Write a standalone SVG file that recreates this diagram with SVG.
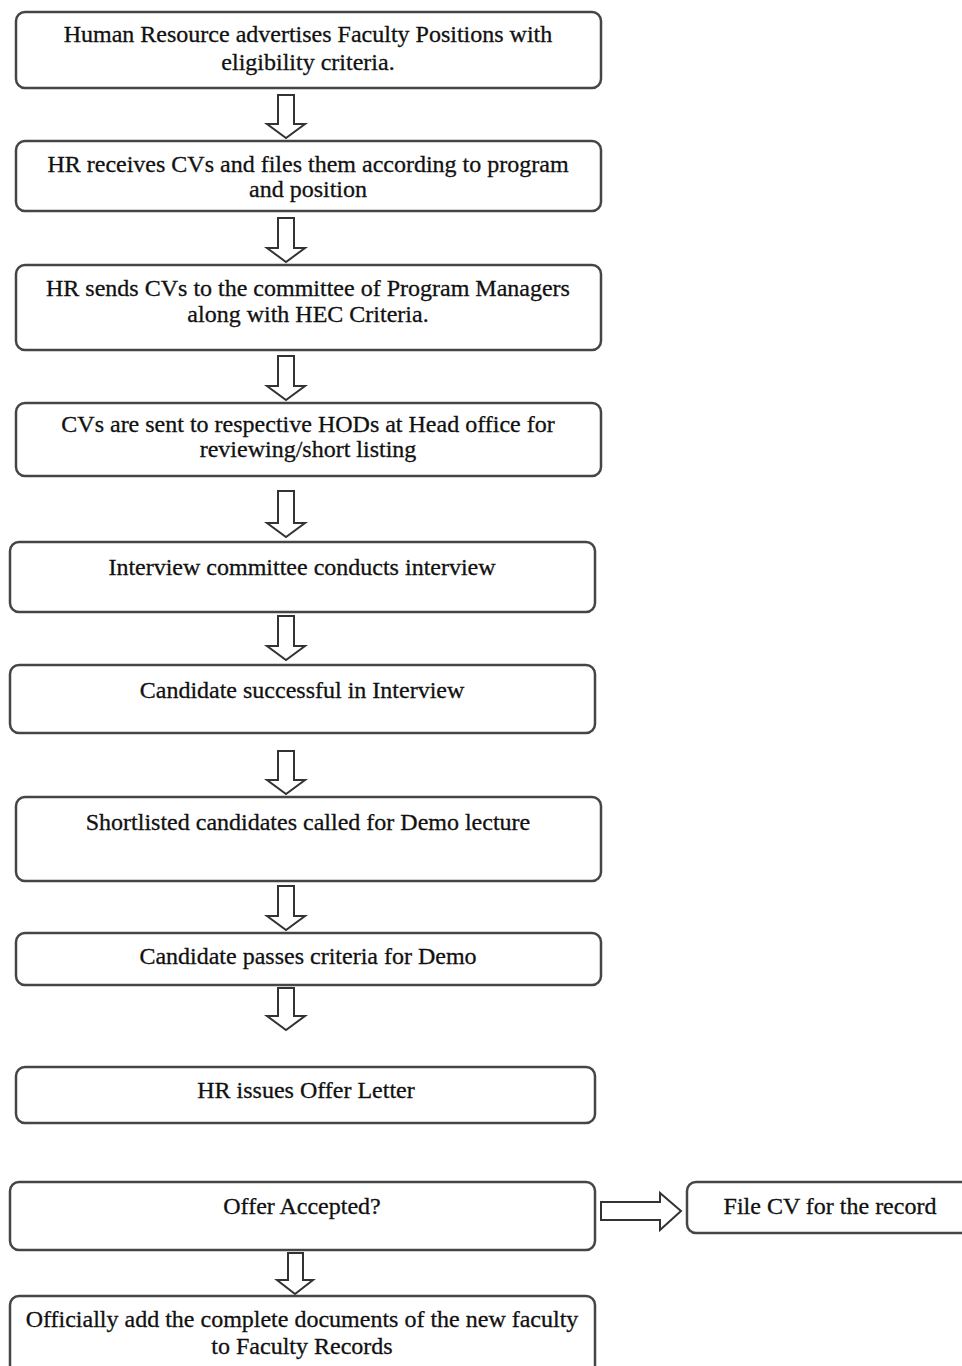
<svg xmlns="http://www.w3.org/2000/svg" width="962" height="1366" viewBox="0 0 962 1366">
<style>
.box{fill:#fff;stroke:#454545;stroke-width:2.5}
.arr{fill:#fff;stroke:#333;stroke-width:2;stroke-linejoin:miter}
text{font-family:"Liberation Serif","Times New Roman",serif;font-size:24px;fill:#111;stroke:#111;stroke-width:0.3;text-anchor:middle}
</style>
<rect width="962" height="1366" fill="#fff"/>
<g id="connectors">
<path class="arr" d="M278,95 H294 V124 H305 L286,138 L267,124 H278 Z"/>
<path class="arr" d="M278,218 H294 V248 H305 L286,262 L267,248 H278 Z"/>
<path class="arr" d="M278,356 H294 V386 H305 L286,400 L267,386 H278 Z"/>
<path class="arr" d="M278,491 H294 V523 H305 L286,537 L267,523 H278 Z"/>
<path class="arr" d="M278,616 H294 V646 H305 L286,660 L267,646 H278 Z"/>
<path class="arr" d="M278,751 H294 V780 H305 L286,794 L267,780 H278 Z"/>
<path class="arr" d="M278,886 H294 V916 H305 L286,930 L267,916 H278 Z"/>
<path class="arr" d="M278,988 H294 V1016 H305 L286,1030 L267,1016 H278 Z"/>
<path class="arr" d="M288,1253 H303 V1280 H313 L295,1294 L277,1280 H288 Z"/>
<path class="arr" d="M601,1202 H660 V1193 L681,1211 L660,1230 V1220 H601 Z"/>
</g>
<g id="n1"><rect class="box" x="16" y="12" width="585" height="76" rx="9"/><text x="308" y="42">Human Resource advertises Faculty Positions with</text><text x="308" y="70">eligibility criteria.</text></g>
<g id="n2"><rect class="box" x="16" y="141" width="585" height="70" rx="9"/><text x="308" y="172">HR receives CVs and files them according to program</text><text x="308" y="197">and position</text></g>
<g id="n3"><rect class="box" x="16" y="265" width="585" height="85" rx="9"/><text x="308" y="296">HR sends CVs to the committee of Program Managers</text><text x="308" y="322">along with HEC Criteria.</text></g>
<g id="n4"><rect class="box" x="16" y="403" width="585" height="73" rx="9"/><text x="308" y="432">CVs are sent to respective HODs at Head office for</text><text x="308" y="457">reviewing/short listing</text></g>
<g id="n5"><rect class="box" x="10" y="542" width="585" height="70" rx="9"/><text x="302" y="575">Interview committee conducts interview</text></g>
<g id="n6"><rect class="box" x="10" y="665" width="585" height="68" rx="9"/><text x="302" y="698">Candidate successful in Interview</text></g>
<g id="n7"><rect class="box" x="16" y="797" width="585" height="84" rx="9"/><text x="308" y="830">Shortlisted candidates called for Demo lecture</text></g>
<g id="n8"><rect class="box" x="16" y="933" width="585" height="52" rx="9"/><text x="308" y="964">Candidate passes criteria for Demo</text></g>
<g id="n9"><rect class="box" x="16" y="1067" width="579" height="56" rx="9"/><text x="306" y="1098">HR issues Offer Letter</text></g>
<g id="n10"><rect class="box" x="10" y="1182" width="585" height="68" rx="9"/><text x="302" y="1214">Offer Accepted?</text></g>
<g id="n11"><rect class="box" x="687" y="1182" width="290" height="51" rx="9"/><text x="830" y="1214">File CV for the record</text></g>
<g id="n12"><rect class="box" x="10" y="1296" width="585" height="90" rx="9"/><text x="302" y="1327">Officially add the complete documents of the new faculty</text><text x="302" y="1354">to Faculty Records</text></g>
</svg>
